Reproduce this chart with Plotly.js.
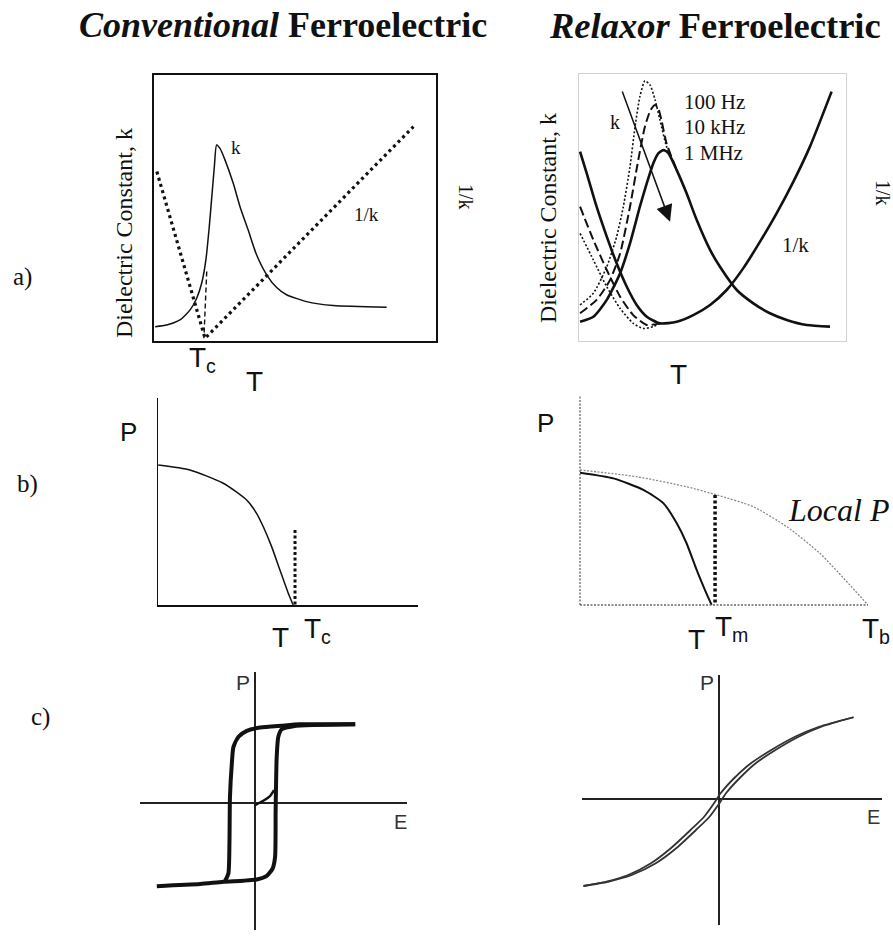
<!DOCTYPE html>
<html><head><meta charset="utf-8">
<script src="https://cdn.plot.ly/plotly-3.0.1.min.js"></script>
<style>html,body{margin:0;padding:0;background:#fff}</style>
</head><body><div id="chart" style="width:893px;height:936px"></div>
<script>
// ---------- DATA (arbitrary schematic units) ----------
// a) conventional: dielectric constant k vs T
const convK_T   = [0.4,4.5,9.2,12.8,15.1,16.9,18.4,19.6,20.6,21.4,22.2,23.4,25.2,28.1,30.5,33.4,36.4,40.0,43.5,47.0,54.1,63.6,82.5];
const convK_val = [5.4,6.0,7.9,11.7,16.0,21.7,30.5,43.0,55.5,65.5,73.7,72.4,68.0,59.3,50.5,41.7,32.3,24.8,20.1,17.4,14.8,13.3,12.7];
const convInvK_T   = [1.0,18.1,92.0];
const convInvK_val = [63.7,1.0,80.6];
const convTcMark_T   = [18.7,17.7];
const convTcMark_val = [26.1,1.0];

// a) relaxor: k at three frequencies and 1/k
const rel1MHz_T = [0.4,5.4,10.4,15.4,19.1,22.8,25.4,27.8,29.7,31.6,33.4,36.6,40.3,44.1,49.1,52.8,59.1,65.3,71.5,77.8,85.3,94.0];
const rel1MHz_k = [7.2,9.1,15.4,25.4,36.6,50.3,59.1,66.5,70.3,71.5,70.5,64.0,55.3,45.3,34.1,27.8,19.1,14.1,10.4,7.9,6.0,5.4];
const rel10kHz_T = [0.4,6.6,11.6,15.4,19.1,22.2,24.7,26.8,28.5,29.7,31.0,32.8,36.6];
const rel10kHz_k = [10.4,15.4,22.8,32.8,50.3,67.8,80.3,86.5,88.4,87.1,82.1,74.0,64.0];
const rel100Hz_T = [0.4,5.4,10.4,14.1,16.6,19.1,21.0,22.8,24.7,26.6,28.5,30.3,32.8,36.6];
const rel100Hz_k = [13.5,17.9,27.8,39.1,50.3,65.3,80.3,91.5,97.5,95.9,90.3,82.8,72.8,64.0];
const relInvK_T   = [0.4,2.9,6.6,10.4,14.1,17.9,21.6,25.4,30.3,36.6,42.8,49.1,55.3,61.5,67.8,74.0,80.3,86.5,94.6];
const relInvK_val = [70.9,62.8,50.3,39.1,29.1,20.3,13.5,9.1,6.6,7.2,9.7,13.5,19.1,27.2,37.2,47.8,59.7,72.8,93.4];
const relInvK10k_T   = [0.4,5.4,10.4,15.4,20.3,25.4,30.3];
const relInvK10k_val = [50.3,37.8,26.6,16.6,9.7,6.0,6.6];
const relInvK100_T   = [0.4,5.4,10.4,15.4,20.3,24.1,27.8,30.3];
const relInvK100_val = [40.3,30.3,20.3,12.2,6.6,4.7,5.4,6.6];
const freqArrowFrom = [16.0,94.0];
const freqArrowTo   = [34.1,44.7];

// b) polarization vs T
const convP_T   = [0.1,12.3,25.1,34.1,37.9,40.5,43.7,46.9,50.1,52.0];
const convP_val = [67.6,65.2,58.8,50.7,44.3,37.8,28.2,16.9,5.7,0];
const convTcLine_T = [52.7,52.7];
const convTcLine_P = [36.2,0];
const relP_T   = [0,11.6,22.0,29.0,33.6,37.0,40.5,43.4,45.7];
const relP_val = [63.0,60.3,54.8,48.4,38.9,29.4,16.7,7.1,0];
const localP_T   = [0,19.7,37.0,47.5,60.2,71.8,83.3,100];
const localP_val = [64.3,61.1,56.3,52.4,46.8,37.3,24.6,0];
const tmLine_T = [46.9,46.9];
const tmLine_P = [52.4,0];

// c) P-E loops
const loopUp_E = [37.5,16.9,10.0,1.9,-3.1,-6.2,-8.1,-8.7,-9.4,-9.6,-10.0,-11.2];
const loopUp_P = [30.5,30.5,30.0,29.3,28.0,25.7,21.8,15.4,2.5,-15.6,-27.3,-30.1];
const loopDown_E = [-36.8,-20.6,-11.9,-4.4,0.6,4.4,6.6,7.5,7.7,8.1,8.7,10.0,14.4,37.5];
const loopDown_P = [-32.2,-31.4,-30.5,-30.1,-29.6,-28.2,-25.3,-20.8,-2.7,17.9,25.7,28.6,29.8,30.5];
const virgin_E = [0,3.1,5.6,7.1];
const virgin_P = [-0.8,0.9,2.7,5.0];
const slimUp_E   = [-45.2,-37.8,-30.3,-22.7,-16.1,-9.5,-5.0,-1.7,0.5,5.0,10.6,17.4,25.3,33.3,44.8];
const slimDown_E = [-45.2,-37.0,-29.1,-21.1,-14.3,-7.7,-3.2,0.1,2.3,6.8,12.2,18.8,26.5,34.1,44.8];
const slim_P     = [-34.8,-33.1,-30.4,-25.7,-19.7,-12.4,-7.1,-1.7,2.3,8.3,14.3,19.6,24.9,28.9,32.7];

// ---------- LAYOUT HELPERS ----------
const W = 893, H = 936;
const fx = p => p / W, fy = p => 1 - p / H;
const SERIF = 'Liberation Serif, Times New Roman, serif';
const SANS = 'Liberation Sans, Arial, sans-serif';
const INK = '#111';

function ax(extra){
  return Object.assign({showgrid:false, zeroline:false, showticklabels:false, ticks:'', fixedrange:true, showline:false}, extra);
}
function line(xa, ya, xs, ys, opts){
  return {type:'scatter', mode:'lines', x:xs, y:ys, xaxis:xa, yaxis:ya, hoverinfo:'skip', showlegend:false, cliponaxis:false,
    line:Object.assign({color:INK, width:1.5, shape:'spline', smoothing:0.6}, opts)};
}
function ann(text, px, py, size, o){
  return Object.assign({text:text, xref:'paper', yref:'paper', x:fx(px), y:fy(py), xanchor:'center', yanchor:'middle',
    showarrow:false, font:{family:SERIF, size:size, color:INK}}, o||{});
}
const sans = s => ({font:{family:SANS, size:s, color:INK}});

const traces = [
  // a) conventional
  line('x','y', convK_T, convK_val, {width:1.5}),
  line('x','y', convInvK_T, convInvK_val, {width:3.2, dash:'3px,3.5px', shape:'linear'}),
  line('x','y', convTcMark_T, convTcMark_val, {width:1.4, dash:'5px,3px', shape:'linear'}),
  // a) relaxor
  line('x2','y2', rel100Hz_T, rel100Hz_k, {width:1.6, dash:'2px,2px'}),
  line('x2','y2', rel10kHz_T, rel10kHz_k, {width:2, dash:'9px,4px'}),
  line('x2','y2', rel1MHz_T, rel1MHz_k, {width:2.6}),
  line('x2','y2', relInvK100_T, relInvK100_val, {width:1.6, dash:'2px,2px'}),
  line('x2','y2', relInvK10k_T, relInvK10k_val, {width:2, dash:'9px,4px'}),
  line('x2','y2', relInvK_T, relInvK_val, {width:2.6}),
  // b) conventional
  line('x3','y3', convP_T, convP_val, {width:1.5}),
  line('x3','y3', convTcLine_T, convTcLine_P, {width:3, dash:'3px,2.5px', shape:'linear'}),
  // b) relaxor
  line('x4','y4', localP_T, localP_val, {width:1.3, color:'#8a8a8a', dash:'2px,1.5px'}),
  line('x4','y4', relP_T, relP_val, {width:2}),
  line('x4','y4', tmLine_T, tmLine_P, {width:3.5, dash:'3px,2.5px', shape:'linear'}),
  // c) loops
  line('x5','y5', loopUp_E, loopUp_P, {width:4}),
  line('x5','y5', loopDown_E, loopDown_P, {width:4}),
  line('x5','y5', virgin_E, virgin_P, {width:2.5}),
  line('x6','y6', slimUp_E, slim_P, {width:1.8, color:'#333'}),
  line('x6','y6', slimDown_E, slim_P, {width:1.8, color:'#333'})
];

const boxA = {showline:true, mirror:true, linecolor:INK, linewidth:2};
const boxB = {showline:true, mirror:true, linecolor:'#d2d2d2', linewidth:1};
const zl = {zeroline:true, zerolinecolor:'#222', zerolinewidth:1.3};

const layout = {
  width:W, height:H, margin:{l:0,r:0,t:0,b:0}, paper_bgcolor:'#fff', plot_bgcolor:'rgba(0,0,0,0)', showlegend:false,
  xaxis:  ax(Object.assign({domain:[fx(154),fx(436)], range:[0,100], anchor:'y'}, boxA)),
  yaxis:  ax(Object.assign({domain:[fy(341),fy(75)],  range:[0,100], anchor:'x'}, boxA)),
  xaxis2: ax(Object.assign({domain:[fx(579),fx(846)], range:[0,100], anchor:'y2'}, boxB)),
  yaxis2: ax(Object.assign({domain:[fy(341),fy(74)],  range:[0,100], anchor:'x2'}, boxB)),
  xaxis3: ax({domain:[fx(158),fx(418)], range:[0,100], anchor:'y3', showline:true, linecolor:INK, linewidth:1.5}),
  yaxis3: ax({domain:[fy(605),fy(398)], range:[0,100], anchor:'x3', showline:true, linecolor:INK, linewidth:1.5}),
  xaxis4: ax({domain:[fx(580),fx(868)], range:[0,100], anchor:'y4'}),
  yaxis4: ax({domain:[fy(605),fy(395)], range:[0,100], anchor:'x4'}),
  xaxis5: ax(Object.assign({domain:[fx(140),fx(407)], range:[-43.1,56.9], anchor:'y5'}, zl)),
  yaxis5: ax(Object.assign({domain:[fy(930),fy(672)], range:[-49.2,50.8], anchor:'x5'}, zl)),
  xaxis6: ax(Object.assign({domain:[fx(582),fx(882)], range:[-45.7,54.3], anchor:'y6'}, zl)),
  yaxis6: ax(Object.assign({domain:[fy(925),fy(675)], range:[-50.4,49.6], anchor:'x6'}, zl)),
  shapes: [
    {type:'line', xref:'x4 domain', yref:'y4 domain', x0:0, x1:0, y0:0, y1:1, line:{color:'#666', width:1.3, dash:'2px,1.5px'}},
    {type:'line', xref:'x4 domain', yref:'y4 domain', x0:0, x1:1, y0:0, y1:0, line:{color:'#666', width:1.3, dash:'2px,1.5px'}}
  ],
  annotations: [
    ann('<b><i>Conventional</i> Ferroelectric</b>', 283, 25, 36),
    ann('<b><i>Relaxor</i> Ferroelectric</b>', 715, 25, 36.5),
    ann('a)', 22, 277, 25), ann('b)', 27, 484, 25), ann('c)', 40, 717, 25),
    // panel a conventional
    ann('Dielectric Constant, k', 124, 233, 24, {textangle:-90}),
    ann('k', 236, 147, 19),
    ann('1/k', 366, 215, 19),
    ann('1/k', 466, 197, 20, {textangle:90}),
    ann('T<sub>c</sub>', 187, 360, 28, Object.assign({xanchor:'left'}, sans(28))),
    ann('T', 254, 381, 28, sans(28)),
    // panel a relaxor
    ann('Dielectric Constant, k', 548, 218, 24, {textangle:-90}),
    ann('k', 615, 122, 20),
    ann('100 Hz', 682, 102, 21, {xanchor:'left'}),
    ann('10 kHz', 682, 127, 21, {xanchor:'left'}),
    ann('1 MHz', 682, 153, 21, {xanchor:'left'}),
    ann('1/k', 795, 245, 21),
    ann('1/k', 883, 193, 20, {textangle:90}),
    ann('T', 678, 374, 28, sans(28)),
    {text:'', xref:'x2', yref:'y2', axref:'x2', ayref:'y2', x:freqArrowTo[0], y:freqArrowTo[1], ax:freqArrowFrom[0], ay:freqArrowFrom[1],
     showarrow:true, arrowhead:2, arrowsize:2.2, arrowwidth:1.5, arrowcolor:INK},
    // panel b conventional
    ann('P', 128, 432, 26, sans(26)),
    ann('T', 280, 637, 28, sans(28)),
    ann('T<sub>c</sub>', 302, 630, 28, Object.assign({xanchor:'left'}, sans(28))),
    // panel b relaxor
    ann('P', 545, 423, 26, sans(26)),
    ann('<i>Local P</i>', 838, 510, 32),
    ann('T', 696, 639, 28, sans(28)),
    ann('T<sub>m</sub>', 713, 628, 28, Object.assign({xanchor:'left'}, sans(28))),
    ann('T<sub>b</sub>', 860, 630, 28, Object.assign({xanchor:'left'}, sans(28))),
    // panel c
    ann('P', 243, 682, 21, {font:{family:SANS, size:21, color:'#333'}}),
    ann('E', 400, 822, 20, {font:{family:SANS, size:20, color:'#333'}}),
    ann('P', 707, 682, 21, {font:{family:SANS, size:21, color:'#333'}}),
    ann('E', 873, 817, 20, {font:{family:SANS, size:20, color:'#333'}})
  ]
};

Plotly.newPlot('chart', traces, layout, {staticPlot:true, displayModeBar:false});
</script></body></html>
